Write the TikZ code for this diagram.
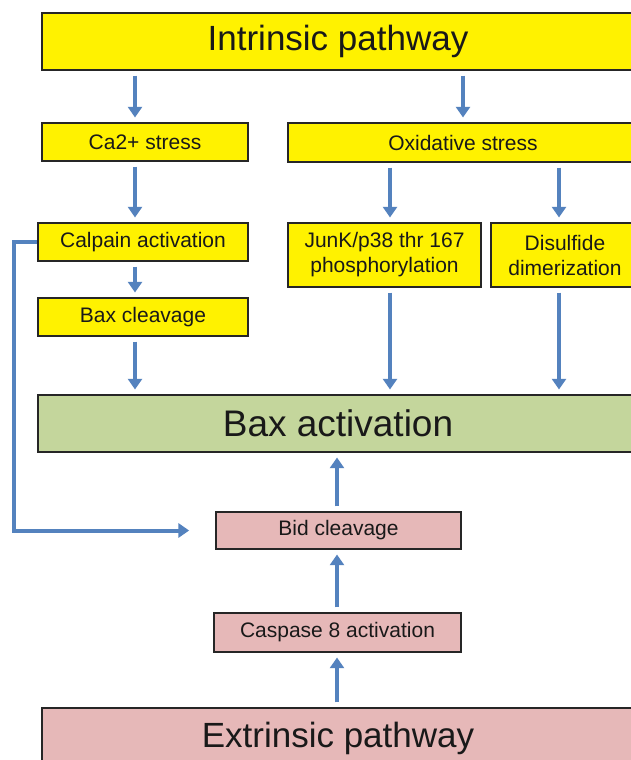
\documentclass[tikz,border=0pt]{standalone}
\usepackage{fontspec}
\setmainfont{Liberation Sans}
\usetikzlibrary{calc,arrows.meta}
\definecolor{arrblue}{RGB}{84,130,190}
\definecolor{baxgreen}{RGB}{196,214,156}
\definecolor{extpink}{RGB}{230,184,184}

\begin{document}
\begin{tikzpicture}[x=0.75pt,y=-0.75pt,
		box/.style={draw=black!85,line width=1.3pt,inner sep=0pt,align=center,text=black!90,
			font=\fontsize{15.75}{18.75}\selectfont},
		ybox/.style={box,fill=yellow},
		pbox/.style={box,fill=extpink},
		big/.style={font=\fontsize{26.25}{30}\selectfont},
		arr/.style={draw=arrblue,line width=3pt,-{Triangle[length=8pt,width=10.5pt]},
			shorten <=3.5pt,shorten >=3.5pt}]
				\useasboundingbox (0,0) rectangle (631,760);
				\fill[white] (0,0) rectangle (631,760);
				\clip (0,0) rectangle (631,760);
				\coordinate (colA) at (135,0);
				\coordinate (colB) at (390,0);
				\coordinate (colC) at (559,0);
				\coordinate (colD) at (337,0);
				\node[ybox,big,minimum width=444pt,minimum height=42.75pt] (intr) at (338,41.5) {Intrinsic pathway};
				\node[ybox,minimum width=154.5pt,minimum height=28.5pt] (ca) at (145,142) {Ca2+ stress};
				\node[ybox,minimum width=262.5pt,minimum height=29.25pt] (oxi) at (463,142.5) {Oxidative stress};
				\node[ybox,minimum width=157.5pt,minimum height=28.5pt] (calp) at (143,242) {Calpain activation};
				\node[ybox,minimum width=144.75pt,minimum height=48pt] (junk) at (384.5,255) {JunK/p38 thr 167\\phosphorylation};
				\node[ybox,minimum width=111pt,minimum height=48pt] (disu) at (565,255) {Disulfide\\dimerization};
				\node[ybox,minimum width=157.5pt,minimum height=28.5pt] (baxcl) at (143,317) {Bax cleavage};
				\node[box,fill=baxgreen,font=\fontsize{27.75}{32}\selectfont,minimum width=450pt,minimum height=42.75pt] (baxact) at (338,423.5) {Bax activation};
				\node[pbox,minimum width=183.75pt,minimum height=27.75pt] (bid) at (338.5,530.5) {Bid cleavage};
				\node[pbox,minimum width=185.25pt,minimum height=29.25pt] (casp) at (337.5,632.5) {Caspase 8 activation};
				\node[pbox,big,minimum width=444pt,minimum height=45pt] (extr) at (338,738) {Extrinsic pathway};
				\draw[arr] (intr.south -| colA) -- (ca.north -| colA);
				\draw[arr] (intr.south -| oxi.north) -- (oxi.north);
				\draw[arr] (ca.south -| colA) -- (calp.north -| colA);
				\draw[arr] (oxi.south -| colB) -- (junk.north -| colB);
				\draw[arr] (oxi.south -| colC) -- (disu.north -| colC);
				\draw[arr] (calp.south -| colA) -- (baxcl.north -| colA);
				\draw[arr] (baxcl.south -| colA) -- (baxact.north -| colA);
				\draw[arr] (junk.south -| colB) -- (baxact.north -| colB);
				\draw[arr] (disu.south -| colC) -- (baxact.north -| colC);
				\draw[arr] (bid.north -| colD) -- (baxact.south -| colD);
				\draw[arr] (casp.north -| colD) -- (bid.south -| colD);
				\draw[arr] (extr.north -| colD) -- (casp.south -| colD);
				\draw[arr,shorten <=0pt,shorten >=0pt] (calp.west) -- ++(-23,0) |- ($(bid.west)+(-26,0)$);
			\end{tikzpicture}
\end{document}
